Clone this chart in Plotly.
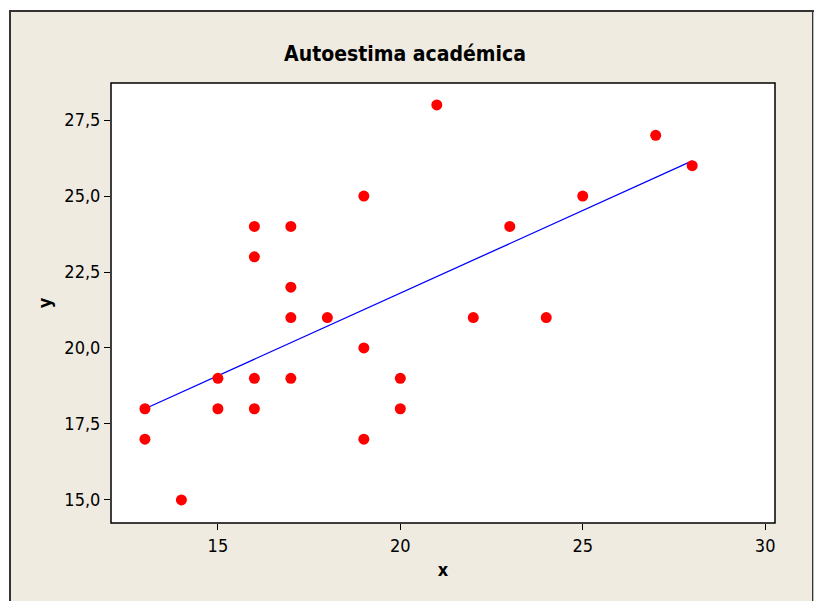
import numpy as np
import plotly.graph_objects as go

x_vals = [13, 13, 14, 15, 15, 16, 16, 16, 16, 17, 17, 17, 17, 18, 19, 19, 19, 20, 20, 21, 22, 23, 24, 25, 27, 28]
y_vals = [18, 17, 15, 19, 18, 24, 23, 19, 18, 24, 22, 21, 19, 21, 25, 20, 17, 19, 18, 28, 21, 24, 21, 25, 27, 26]
title_text = "Autoestima académica"
x_ticks = [15, 20, 25, 30]
y_ticks = [15.0, 17.5, 20.0, 22.5, 25.0, 27.5]

slope, intercept = np.polyfit(x_vals, y_vals, 1)
fx = np.array([min(x_vals), max(x_vals)])
fy = slope * fx + intercept

FONT = "DejaVu Sans Condensed, DejaVu Sans, sans-serif"
BEIGE = "#EFEBE1"

fig = go.Figure()
fig.add_trace(go.Scatter(x=fx, y=fy, mode="lines", line=dict(color="#0000FF", width=1.3),
                         hoverinfo="skip", showlegend=False))
fig.add_trace(go.Scatter(x=x_vals, y=y_vals, mode="markers",
                         marker=dict(color="#FF0000", size=11, line=dict(width=0)),
                         showlegend=False))

L, R, T, B = 111, 45, 83, 78
W, H = 820, 601
pw, ph = W - L - R, H - T - B

def px_x(px):
    return (px - L) / pw

def px_y(py):
    return 1 - (py - T) / ph

fig.update_layout(
    width=W, height=H,
    margin=dict(l=L, r=R, t=T, b=B),
    paper_bgcolor="white",
    plot_bgcolor="white",
    separators=",.",
    font=dict(family=FONT, size=18, color="black"),
    title=dict(text="<b>" + title_text + "</b>", x=405 / W, xref="container", xanchor="center",
               y=1 - 54 / H, yref="container", yanchor="middle",
               font=dict(family=FONT, size=21, color="black")),
    shapes=[
        dict(type="rect", xref="paper", yref="paper", x0=px_x(10), x1=px_x(813), y0=px_y(640), y1=px_y(11),
             fillcolor=BEIGE, line=dict(color="#333333", width=2), layer="below"),
        dict(type="rect", xref="paper", yref="paper", x0=px_x(813), x1=px_x(814), y0=px_y(640), y1=px_y(12),
             fillcolor="#BBBBBB", line=dict(width=0), layer="below"),
        dict(type="rect", xref="paper", yref="paper", x0=0, x1=1, y0=0, y1=1,
             fillcolor="white", line=dict(color="black", width=1.5), layer="below"),
    ],
    xaxis=dict(range=[12.07, 30.27], tickvals=x_ticks, ticktext=[str(v) for v in x_ticks],
               ticks="outside", ticklen=6, tickwidth=1.2, tickcolor="black",
               showgrid=False, zeroline=False, showline=False,
               title=dict(text="<b>x</b>", standoff=8, font=dict(size=18)),
               tickfont=dict(size=18)),
    yaxis=dict(range=[14.24, 28.72], tickvals=y_ticks, tickformat=".1f",
               ticks="outside", ticklen=6, tickwidth=1.2, tickcolor="black",
               showgrid=False, zeroline=False, showline=False,
               title=dict(text="<b>y</b>", standoff=8, font=dict(size=18)),
               tickfont=dict(size=18)),
)

fig.write_html("out.html")
